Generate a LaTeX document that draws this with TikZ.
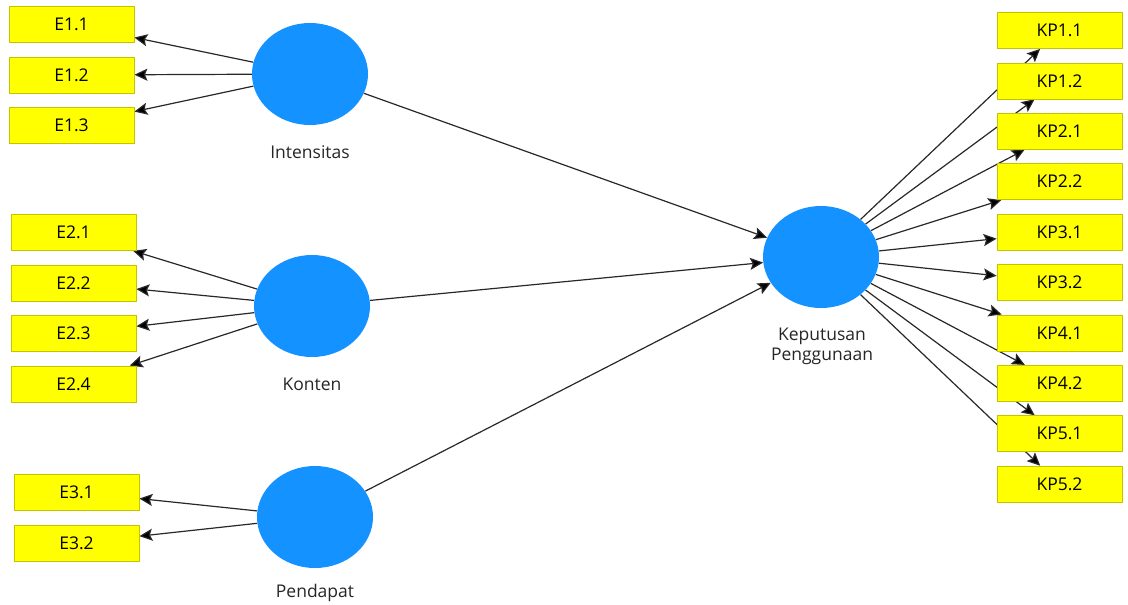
\documentclass[tikz,border=0pt]{standalone}
\usepackage{fontspec}
\setmainfont{Open Sans}
\usetikzlibrary{shapes.geometric,arrows.meta,backgrounds}
\definecolor{lvblue}{RGB}{20,146,255}
\definecolor{indyellow}{RGB}{255,255,0}
\definecolor{indborder}{RGB}{196,196,0}
\definecolor{linkgray}{RGB}{40,40,40}
\begin{document}
\begin{tikzpicture}[x=1pt,y=-1pt,
  latent/.style={ellipse, fill=lvblue, minimum width=116pt, minimum height=102pt, inner sep=0pt},
  indicator/.style={rectangle, fill=indyellow, draw=indborder, line width=0.8pt,
    minimum width=125pt, minimum height=36pt, inner sep=0pt, font=\fontsize{17.5}{20}\selectfont},
  lbl/.style={font=\fontsize{17.5}{21}\selectfont, text=black!85, align=center},
  link/.style={draw=linkgray, line width=1.2pt,
    -{Stealth[length=13pt,width=12pt,inset=2.5pt,fill=black]}}]
\useasboundingbox (0,0) rectangle (1128,605);

% latent variables
\node[latent] (int) at (310,74) {};
\node[latent] (kon) at (312,306) {};
\node[latent] (pen) at (315,517) {};
\node[latent] (kep) at (821,257) {};

\node[lbl] (intl) at (310,152) {Intensitas};
\node[lbl] (konl) at (312,384) {Konten};
\node[lbl] (penl) at (315,593) {Pendapat};
\node[lbl] (kepl) at (822,346) {Keputusan\\[-1pt]Penggunaan};

% indicators on the left
\node[indicator] (e11) at (71.5,24.5) {E1.1};
\node[indicator] (e12) at (71.5,75) {E1.2};
\node[indicator] (e13) at (71.5,125) {E1.3};
\node[indicator] (e21) at (73.5,232.5) {E2.1};
\node[indicator] (e22) at (73.5,283) {E2.2};
\node[indicator] (e23) at (73.5,333.5) {E2.3};
\node[indicator] (e24) at (73.5,384) {E2.4};
\node[indicator] (e31) at (76.5,492) {E3.1};
\node[indicator] (e32) at (76.5,543) {E3.2};

% indicators on the right
\foreach \n/\t [count=\i from 0] in {kp11/KP1.1,kp12/KP1.2,kp21/KP2.1,kp22/KP2.2,kp31/KP3.1,
                                     kp32/KP3.2,kp41/KP4.1,kp42/KP4.2,kp51/KP5.1,kp52/KP5.2}
  \node[indicator] (\n) at (1059.5,30.5+50.4*\i) {\t};

% connectors run underneath the boxes and ellipses
\begin{pgfonlayer}{background}
  \fill[white] (0,0) rectangle (1128,605);
  \foreach \e in {e11,e12,e13} \draw[link] (int) -- (\e);
  \foreach \e in {e21,e22,e23,e24} \draw[link] (kon) -- (\e);
  \foreach \e in {e31,e32} \draw[link] (pen) -- (\e);
  \foreach \e in {kp11,kp12,kp21,kp22,kp31,kp32,kp41,kp42,kp51,kp52} \draw[link] (kep) -- (\e);
  \draw[link] (int) -- (kep);
  \draw[link] (kon) -- (kep);
  \draw[link] (pen) -- (kep);
\end{pgfonlayer}
\end{tikzpicture}
\end{document}
